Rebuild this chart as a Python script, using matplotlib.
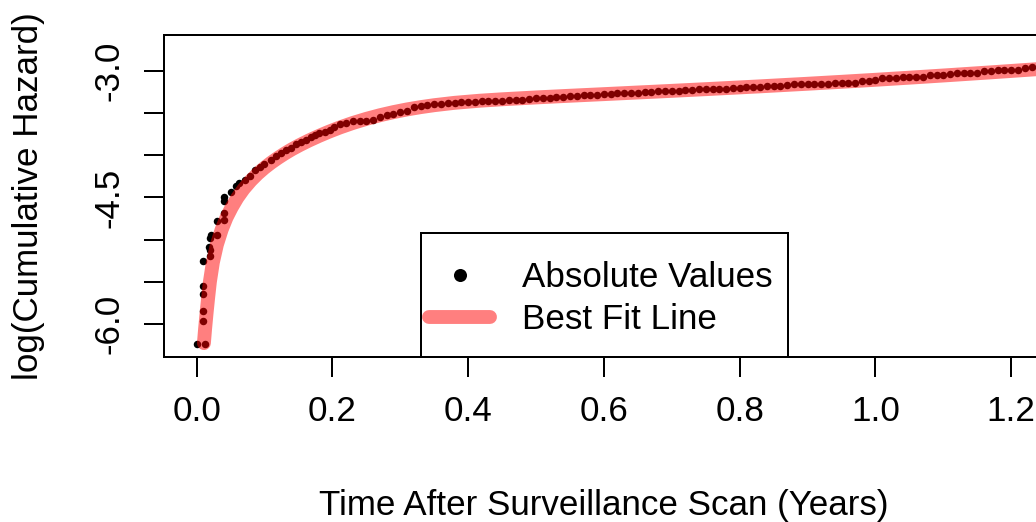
import matplotlib
matplotlib.use('Agg')
import matplotlib.pyplot as plt
from matplotlib.patches import Rectangle

plt.rcParams['font.family'] = ['Liberation Sans', 'DejaVu Sans']

# observed points (years, log cumulative hazard)
time_yrs = [0.000, 0.012, 0.010, 0.010, 0.010, 0.010, 0.010, 0.020, 0.020, 0.019,
            0.020, 0.021, 0.030, 0.030, 0.041, 0.040, 0.041, 0.041, 0.050, 0.058,
            0.063, 0.071, 0.078, 0.086, 0.093, 0.100, 0.110, 0.117, 0.125, 0.132,
            0.139, 0.147, 0.154, 0.161, 0.169, 0.175, 0.181, 0.189, 0.196, 0.203,
            0.211, 0.220, 0.230, 0.240, 0.250,
            0.26, 0.27, 0.28, 0.29, 0.30, 0.31, 0.32, 0.33, 0.34, 0.35,
            0.36, 0.37, 0.38, 0.39, 0.40, 0.41, 0.42, 0.43, 0.44, 0.45,
            0.46, 0.47, 0.48, 0.49, 0.50, 0.51, 0.52, 0.53, 0.54, 0.55,
            0.56, 0.57, 0.58, 0.59, 0.60, 0.61, 0.62, 0.63, 0.64, 0.65,
            0.66, 0.67, 0.68, 0.69, 0.70, 0.71, 0.72, 0.73, 0.74, 0.75,
            0.76, 0.77, 0.78, 0.79, 0.80, 0.81, 0.82, 0.83, 0.84, 0.85,
            0.86, 0.87, 0.88, 0.89, 0.90, 0.91, 0.92, 0.93, 0.94, 0.95,
            0.96, 0.97, 0.98, 0.99, 1.00, 1.01, 1.02, 1.03, 1.04, 1.05,
            1.06, 1.07, 1.08, 1.09, 1.10, 1.11, 1.12, 1.13, 1.14, 1.15,
            1.16, 1.17, 1.18, 1.19, 1.20, 1.21, 1.22, 1.23]
log_cumhaz = [-6.238, -6.238, -5.960, -5.841, -5.640, -5.551, -5.255, -5.196, -5.124, -5.083,
              -4.982, -4.947, -4.947, -4.781, -4.769, -4.686, -4.544, -4.496, -4.437, -4.366,
              -4.331, -4.295, -4.248, -4.177, -4.141, -4.105, -4.052, -4.011, -3.975, -3.940,
              -3.910, -3.868, -3.839, -3.815, -3.786, -3.762, -3.738, -3.720, -3.697, -3.661,
              -3.632, -3.614, -3.596, -3.590, -3.590,
              -3.578, -3.549, -3.525, -3.507, -3.489, -3.472, -3.430, -3.418, -3.406, -3.395,
              -3.389, -3.383, -3.377, -3.371, -3.368, -3.365, -3.361, -3.359, -3.357, -3.353,
              -3.350, -3.347, -3.341, -3.338, -3.323, -3.321, -3.318, -3.314, -3.306, -3.300,
              -3.295, -3.291, -3.288, -3.284, -3.280, -3.274, -3.269, -3.265, -3.262, -3.258,
              -3.254, -3.248, -3.244, -3.241, -3.238, -3.235, -3.229, -3.225, -3.222, -3.219,
              -3.217, -3.214, -3.211, -3.205, -3.199, -3.193, -3.191, -3.187, -3.184, -3.181,
              -3.175, -3.167, -3.161, -3.158, -3.158, -3.155, -3.153, -3.152, -3.149, -3.146,
              -3.143, -3.140, -3.122, -3.116, -3.110, -3.086, -3.084, -3.082, -3.079, -3.077,
              -3.075, -3.069, -3.051, -3.049, -3.045, -3.033, -3.031, -3.027, -3.025, -3.021,
              -3.004, -2.998, -2.994, -2.992, -2.988, -2.986, -2.962, -2.958]

# fitted curve
fit_time = [0.0108, 0.0125, 0.0147, 0.0170, 0.0196, 0.0240, 0.0299, 0.0370, 0.0440,
            0.0516, 0.0600, 0.0693, 0.0800, 0.0900, 0.1000, 0.1100, 0.1200, 0.1300,
            0.1400, 0.1520, 0.1650, 0.1800, 0.1950, 0.2110, 0.2300, 0.2500, 0.2700,
            0.2900, 0.3100, 0.3300, 0.3500, 0.3800, 0.4170, 0.4500, 0.5000, 0.5450,
            0.6000, 0.6900, 0.7500, 0.8270, 0.9000, 0.9500, 1.0000, 1.0500, 1.1100,
            1.1700, 1.2370, 1.3000]
fit_loghaz = [-6.226, -6.060, -5.871, -5.690, -5.500, -5.270, -5.060, -4.880, -4.740,
              -4.620, -4.505, -4.400, -4.300, -4.220, -4.150, -4.088, -4.032, -3.980,
              -3.932, -3.880, -3.828, -3.773, -3.722, -3.672, -3.619, -3.570, -3.527,
              -3.490, -3.458, -3.431, -3.408, -3.380, -3.355, -3.338, -3.316, -3.298,
              -3.277, -3.242, -3.218, -3.186, -3.154, -3.131, -3.107, -3.082, -3.051,
              -3.019, -2.982, -2.946]

x_ticks = [0.0, 0.2, 0.4, 0.6, 0.8, 1.0, 1.2]
x_tick_labels = ['0.0', '0.2', '0.4', '0.6', '0.8', '1.0', '1.2']
y_ticks = [-6.0, -5.5, -5.0, -4.5, -4.0, -3.5, -3.0]
y_tick_labels = ['-6.0', '', '', '-4.5', '', '', '-3.0']

FS = 25.2
W, H = 1036, 522

fig = plt.figure(figsize=(W / 100, H / 100), dpi=100)
ax = fig.add_axes([164 / W, (H - 356.7) / H, (1043.8 - 164) / W, 322 / H])

ax.plot(time_yrs, log_cumhaz, 'o', color='black', ms=5.4, mew=0,
        label='Absolute Values', zorder=2)
ax.plot(fit_time, fit_loghaz, color='red', alpha=0.5, lw=10,
        solid_capstyle='round', solid_joinstyle='round',
        label='Best Fit Line', zorder=3)

ax.set_xlim(-0.048, 1.248)
ax.set_ylim(-6.387, -2.573)
ax.set_xticks(x_ticks)
ax.set_xticklabels(x_tick_labels)
ax.set_yticks(y_ticks)
ax.set_yticklabels(y_tick_labels, rotation=90, va='center')
ax.tick_params(length=14.4, width=1.44, labelsize=FS)
ax.tick_params(axis='x', pad=13)
ax.tick_params(axis='y', pad=13.5)
for s in ax.spines.values():
    s.set_linewidth(1.44)

ax.set_xlabel('Time After Surveillance Scan (Years)', fontsize=FS)
ax.xaxis.set_label_coords(0.5, (356.7 - 489) / 322)
ax.set_ylabel('log(Cumulative Hazard)', fontsize=FS)
ax.yaxis.set_label_coords((45 - 164) / 879.8, 0.5)

leg = ax.legend(loc='upper left', bbox_to_anchor=(429 / W, 1 - 261 / H),
                bbox_transform=fig.transFigure, frameon=False, borderpad=0,
                borderaxespad=0, handlelength=1.75, handletextpad=0.9,
                labelspacing=0.26, fontsize=FS, numpoints=1)
leg.legend_handles[0].set_markersize(9.4)
fig.add_artist(Rectangle((421 / W, (H - 356.7) / H), 367 / W, (356.7 - 233) / H,
                         transform=fig.transFigure, fill=False, lw=1.44,
                         ec='black', zorder=5))

fig.savefig('out.png', dpi=100)
